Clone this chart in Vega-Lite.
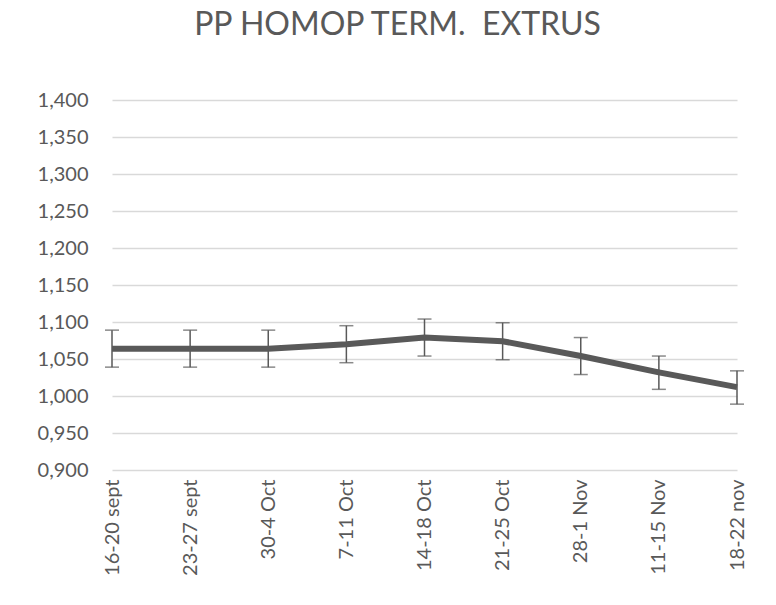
{
  "$schema": "https://vega.github.io/schema/vega-lite/v6.json",
  "width": 625,
  "height": 370,
  "autosize": {"type": "none"},
  "padding": {"left": 112, "top": 100, "right": 39, "bottom": 135},
  "background": "white",
  "title": {
    "text": "PP HOMOP TERM.\u00a0 EXTRUS",
    "font": "Lato",
    "fontSize": 32,
    "fontWeight": "normal",
    "color": "#595959",
    "anchor": "middle",
    "frame": "group",
    "dx": -27,
    "offset": 48
  },
  "config": {
    "view": {"stroke": null},
    "font": "Lato",
    "axisY": {
      "title": null,
      "labelFontSize": 20,
      "labelColor": "#595959",
      "labelPadding": 24,
      "labelOverlap": false,
      "ticks": false,
      "domain": false,
      "grid": true,
      "gridColor": "#d9d9d9",
      "gridWidth": 1.5
    }
  },
  "data": {
    "values": [
      {"week": "16-20 sept", "value": 1.064, "lo": 1.039, "hi": 1.089},
      {"week": "23-27 sept", "value": 1.064, "lo": 1.039, "hi": 1.089},
      {"week": "30-4 Oct", "value": 1.064, "lo": 1.039, "hi": 1.089},
      {"week": "7-11 Oct", "value": 1.070, "lo": 1.045, "hi": 1.095},
      {"week": "14-18 Oct", "value": 1.079, "lo": 1.054, "hi": 1.104},
      {"week": "21-25 Oct", "value": 1.074, "lo": 1.049, "hi": 1.099},
      {"week": "28-1 Nov", "value": 1.054, "lo": 1.029, "hi": 1.079},
      {"week": "11-15 Nov", "value": 1.032, "lo": 1.009, "hi": 1.054},
      {"week": "18-22 nov", "value": 1.012, "lo": 0.989, "hi": 1.034}
    ]
  },
  "encoding": {
    "x": {
      "field": "week",
      "type": "ordinal",
      "sort": null,
      "scale": {"type": "point", "padding": 0},
      "axis": {
        "title": null,
        "labelAngle": -90,
        "labelFontSize": 20,
        "labelColor": "#595959",
        "labelPadding": 9,
        "labelOverlap": false,
        "ticks": false,
        "domain": false,
        "grid": false
      }
    }
  },
  "layer": [
    {
      "mark": {"type": "rule", "color": "#595959", "strokeWidth": 1.5},
      "encoding": {
        "y": {
          "field": "lo",
          "type": "quantitative",
          "scale": {"domain": [0.9, 1.4], "nice": false, "zero": false},
          "axis": {
            "values": [0.9, 0.95, 1.0, 1.05, 1.1, 1.15, 1.2, 1.25, 1.3, 1.35, 1.4],
            "labelExpr": "replace(format(datum.value, '.3f'), '.', ',')"
          }
        },
        "y2": {"field": "hi"}
      }
    },
    {
      "mark": {"type": "tick", "color": "#595959", "thickness": 1.5, "size": 14, "orient": "horizontal"},
      "encoding": {
        "y": {
          "field": "lo",
          "type": "quantitative",
          "axis": {
            "values": [0.9, 0.95, 1.0, 1.05, 1.1, 1.15, 1.2, 1.25, 1.3, 1.35, 1.4],
            "labelExpr": "replace(format(datum.value, '.3f'), '.', ',')"
          }
        }
      }
    },
    {
      "mark": {"type": "tick", "color": "#595959", "thickness": 1.5, "size": 14, "orient": "horizontal"},
      "encoding": {
        "y": {
          "field": "hi",
          "type": "quantitative",
          "axis": {
            "values": [0.9, 0.95, 1.0, 1.05, 1.1, 1.15, 1.2, 1.25, 1.3, 1.35, 1.4],
            "labelExpr": "replace(format(datum.value, '.3f'), '.', ',')"
          }
        }
      }
    },
    {
      "mark": {"type": "line", "color": "#595959", "strokeWidth": 6},
      "encoding": {
        "y": {
          "field": "value",
          "type": "quantitative",
          "axis": {
            "values": [0.9, 0.95, 1.0, 1.05, 1.1, 1.15, 1.2, 1.25, 1.3, 1.35, 1.4],
            "labelExpr": "replace(format(datum.value, '.3f'), '.', ',')"
          }
        }
      }
    }
  ]
}
